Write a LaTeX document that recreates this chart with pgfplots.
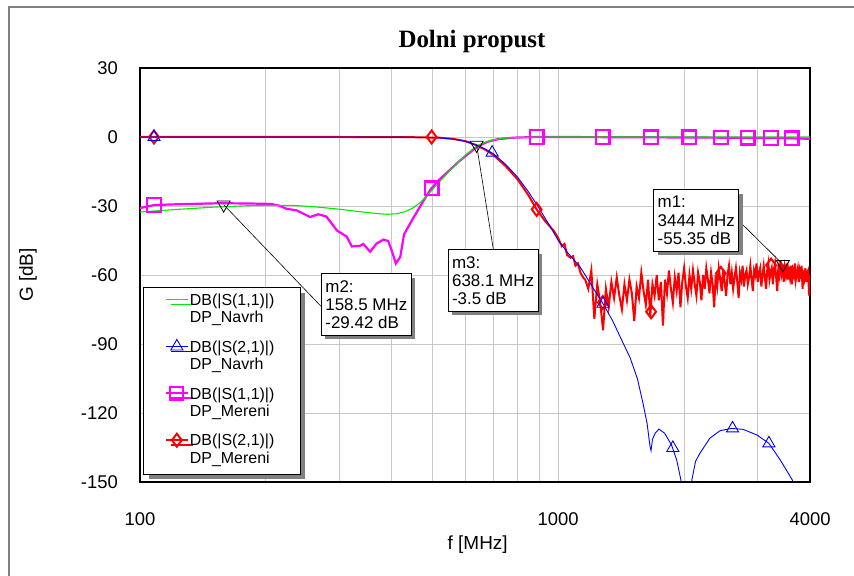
\documentclass[border=0pt]{standalone}
\usepackage{fontspec}
\setmainfont{Liberation Sans}
\newfontfamily\titleserif{Liberation Serif}
\usepackage{pgfplots}
\pgfplotsset{compat=1.18}
\usetikzlibrary{shadows}

\definecolor{gridgray}{RGB}{200,200,200}
\definecolor{navgreen}{RGB}{0,235,0}
\definecolor{navblue}{RGB}{0,0,255}
\definecolor{mermag}{RGB}{255,0,255}
\definecolor{merred}{RGB}{255,0,0}
\definecolor{shadowgray}{RGB}{128,128,128}

\newcommand\tickfont{\fontsize{18.5}{20}\selectfont}
\newcommand\labfont{\fontsize{19}{21}\selectfont}
\newcommand\legfont{\fontsize{16}{17.7}\selectfont}
\newcommand\annfont{\fontsize{17}{18.3}\selectfont}
% two-line legend entry with the right-hand padding of the legend box
\newcommand\legentry[2]{\begin{tabular}[t]{@{}l@{\hspace{21bp}}}#1\\#2\end{tabular}}

\tikzset{
  markerbox/.style={draw=black, line width=0.8bp, fill=white, align=left,
    inner xsep=4bp, inner ysep=6.5bp, font=\annfont,
    drop shadow={shadow xshift=4bp, shadow yshift=-4bp, fill=shadowgray, opacity=1}},
}

\begin{document}
\begin{tikzpicture}
\path[use as bounding box] (0,0) rectangle (854bp,576bp);
% outer frame of the graph window
\draw[gray, line width=1.6bp] (9bp,0) -- (9bp,569bp) -- (854bp,569bp);

\begin{axis}[
  at={(140bp,94bp)}, anchor=south west,
  width=670bp, height=414bp, scale only axis,
  xmode=log, xmin=100, xmax=4000, ymin=-150, ymax=30,
  xtick={100,1000,4000}, xticklabels={100,1000,4000},
  minor xtick={200,300,400,500,600,700,800,900,2000,3000},
  ytick={-150,-120,-90,-60,-30,0,30},
  grid=both,
  major grid style={gridgray, line width=0.9bp},
  minor grid style={gridgray, line width=0.9bp},
  major tick length=0pt, minor tick length=0pt,
  axis line style={black, line width=1.2bp},
  /pgf/number format/assume math mode=true,
  tick label style={font=\tickfont, inner sep=0pt},
  yticklabel style={anchor=east, xshift=-22bp},
  xticklabel style={anchor=north, yshift=-30bp},
  title={\titleserif\bfseries Dolni propust},
  title style={font=\fontsize{25}{27}\selectfont, at={(axis description cs:0.4955,1.0507)}, anchor=center},
  xlabel={f [MHz]},
  xlabel style={font=\labfont, at={(axis description cs:0.504,-0.1522)}, anchor=center},
  ylabel={G [dB]},
  ylabel style={font=\labfont, at={(axis description cs:-0.1672,0.5)}, anchor=center},
  legend cell align=left,
  legend image code/.code={%
    \path (-17bp,11bp) (0bp,11bp);
    \draw[mark repeat=2,mark phase=2] plot coordinates {(0bp,11bp)(11bp,11bp)(22bp,11bp)};},
  legend style={at={(axis description cs:0.005,0.4703)}, anchor=north west,
    draw=black, line width=0.8bp, fill=white, font=\legfont,
    row sep=9.6bp, inner xsep=4bp, inner ysep=4.3bp,
    nodes={inner sep=1bp, text depth={}, text height={}},
    drop shadow={shadow xshift=5bp, shadow yshift=-5bp, fill=shadowgray, opacity=1}},
]

% legend entries
\addlegendimage{navgreen, line width=1.1bp}
\addlegendentry{\legentry{DB(|S(1,1)|)}{DP\_Navrh}}
\addlegendimage{navblue, line width=0.9bp, mark=triangle, mark size=7bp, mark options={solid, fill=none}}
\addlegendentry{\legentry{DB(|S(2,1)|)}{DP\_Navrh}}
\addlegendimage{mermag, line width=2.2bp, mark=square, mark size=6.5bp, mark options={solid, fill=none}}
\addlegendentry{\legentry{DB(|S(1,1)|)}{DP\_Mereni}}
\addlegendimage{merred, line width=2bp, mark=diamond, mark size=6.5bp, mark options={solid, fill=none}}
\addlegendentry{\legentry{DB(|S(2,1)|)}{DP\_Mereni}}

% measured S11
\addplot[mermag, line width=2.2bp, forget plot] coordinates {
(100,-30.9) (108,-29.6) (120,-29.3) (140,-29.0) (155,-28.8) (180,-28.9)
(205,-29.1) (215,-29.8) (224,-31.2) (237,-31.9) (255,-34.8) (267,-33.6)
(279,-34.6) (296,-40.7) (312,-43.3) (321,-47.6) (336,-47.3) (342,-46.5)
(355,-49.9) (368,-46.3) (382,-44.6) (392,-45.2) (400,-49.5) (409,-55.0)
(419,-52.2) (428,-42.3) (451,-35.0) (476,-27.8) (496,-22.6) (520,-18.5)
(551,-14.3) (580,-10.5) (605,-7.8) (640,-4.2) (680,-2.0) (720,-0.9)
(780,-0.3) (850,-0.1) (900,0) (1500,-0.1) (2500,-0.3) (3500,-0.5) (4000,-0.8)
};
\addplot[only marks, mermag, mark=square, mark size=6.8bp, mark options={line width=2.2bp, fill=none}, forget plot] coordinates {
(108,-29.6) (498,-22.3) (888,0) (1278,0) (1668,-0.1) (2058,-0.1)
(2448,-0.2) (2838,-0.3) (3228,-0.4) (3618,-0.6)
};

% measured S21
\addplot[merred, line width=2bp, forget plot] coordinates {
(100,0) (300,0) (450,-0.1) (520,-0.3) (560,-0.8) (600,-1.8) (638,-3.6)
(670,-5.6) (700,-7.8) (750,-12.8) (800,-18.5) (850,-25.5) (888,-31.5)
(930,-36.5) (976,-40.8) (1000,-44) (1020,-47.5) (1035,-46.5) (1050,-51.3)
(1070,-52.5) (1085,-51.8) (1100,-56) (1115,-55) (1130,-59) (1150,-61.4)
(1160,-62) (1180,-66) (1200,-58) (1220,-79) (1240,-64) (1260,-72)
(1280,-84) (1300,-66) (1320,-74) (1340,-63) (1360,-70) (1380,-61)
(1400,-69) (1420,-75) (1440,-64) (1460,-71) (1480,-62) (1500,-68)
(1520,-80) (1540,-65) (1560,-70) (1580,-59) (1600,-67) (1620,-73)
(1640,-62) (1660,-78) (1680,-64) (1700,-69) (1720,-60) (1740,-71)
(1760,-63) (1780,-82) (1800,-62) (1820,-68) (1840,-58) (1860,-66)
(1880,-72) (1900,-61) (1920,-67) (1940,-59) (1960,-74) (1980,-63)
(2000,-57) (2020,-65) (2040,-70) (2060,-60) (2080,-66) (2100,-58)
(2120,-64) (2140,-69) (2160,-59) (2180,-63) (2200,-71) (2220,-60)
(2240,-66) (2260,-57) (2280,-62) (2300,-68) (2320,-59) (2340,-64)
(2360,-74) (2380,-60) (2400,-65) (2420,-57) (2440,-62) (2460,-67)
(2480,-58) (2500,-63) (2520,-69) (2540,-60) (2560,-56) (2580,-64)
(2600,-59) (2620,-66) (2640,-61) (2660,-57) (2680,-63) (2700,-70)
(2720,-59) (2740,-62) (2760,-56) (2780,-65) (2800,-60) (2820,-58)
(2840,-64) (2860,-61) (2880,-56) (2900,-62) (2920,-67) (2940,-58)
(2960,-60) (2980,-55) (3000,-63) (3020,-59) (3040,-57) (3060,-65)
(3080,-60) (3100,-56) (3120,-61) (3140,-66) (3160,-58) (3180,-55)
(3200,-62) (3220,-59) (3240,-57) (3260,-64) (3280,-58) (3300,-55)
(3320,-61) (3340,-67) (3360,-57) (3380,-60) (3400,-54) (3420,-59)
(3440,-55.4) (3460,-63) (3480,-57) (3500,-60) (3520,-55) (3540,-62)
(3560,-58) (3580,-61) (3600,-56) (3620,-64) (3640,-58) (3660,-60)
(3680,-55) (3700,-62) (3720,-59) (3740,-57) (3760,-63) (3780,-58)
(3800,-60) (3820,-56) (3840,-66) (3860,-58) (3880,-61) (3900,-57)
(3920,-63) (3940,-59) (3960,-58) (3980,-69) (4000,-60)
};
\addplot[only marks, merred, mark=diamond, mark size=6.5bp, mark options={line width=2bp, fill=none}, forget plot] coordinates {
(108,0) (498,0) (888,-31.5) (1278,-72) (1668,-76) (2448,-59.3) (3228,-55.7)
};

% designed S11
\addplot[navgreen, line width=1.1bp, forget plot] coordinates {
(100,-32.6) (120,-31.6) (150,-30.5) (180,-29.9) (200,-29.7) (230,-29.7)
(260,-30.3) (300,-31.4) (340,-32.6) (370,-33.3) (390,-33.6) (410,-33.4)
(430,-32.5) (450,-30.8) (470,-28.2) (494,-24.0) (520,-19.5) (550,-14.8)
(580,-10.5) (605,-7.3) (640,-3.8) (670,-2.2) (700,-1.2) (740,-0.5)
(800,-0.2) (900,-0.05) (1000,0) (4000,0)
};

% designed S21
\addplot[navblue, line width=0.9bp, forget plot] coordinates {
(100,0) (300,0) (450,-0.1) (520,-0.4) (560,-0.9) (600,-1.9) (638,-3.5)
(670,-5.3) (700,-7.3) (750,-12) (800,-17.5) (850,-24) (886,-29)
(950,-38) (1000,-45) (1050,-50) (1128,-56.5) (1160,-60) (1220,-66.5)
(1280,-72.5) (1350,-80) (1420,-88.5) (1486,-96) (1547,-105.2)
(1595,-115.8) (1631,-124.5) (1658,-134.6) (1667,-136.4) (1680,-131.5)
(1705,-128.8) (1741,-127) (1797,-128.8) (1866,-133.9) (1920,-140.4)
(1965,-149.1) (1990,-156) (2010,-170)
};
\addplot[navblue, line width=0.9bp, forget plot] coordinates {
(2060,-170) (2087,-149.1) (2130,-141) (2182,-137.5) (2303,-131)
(2437,-127.7) (2594,-126.7) (2766,-127.1) (2990,-129.6) (3190,-133.2)
(3395,-140.4) (3628,-149.1) (3700,-153) (3800,-160)
};
\addplot[only marks, navblue, mark=triangle, mark size=7bp, mark options={line width=0.9bp, fill=none}, forget plot] coordinates {
(108,0) (695,-6.8) (1280,-72.5) (1880,-135.2) (2611,-126.7) (3190,-133.2)
};

% markers m1, m2, m3
\addplot[only marks, mark=triangle, mark size=7.5bp, mark options={rotate=180, black, line width=0.8bp, fill=none}, forget plot] coordinates {
(158.5,-29.42) (638.1,-3.5) (3444,-55.35)
};
\coordinate (m1pt) at (axis cs:3444,-55.35);
\coordinate (m2pt) at (axis cs:158.5,-29.42);
\coordinate (m3pt) at (axis cs:638.1,-3.5);
\end{axis}

% marker read-outs
\draw[black, line width=0.6bp] (m2pt) -- (321bp,269.7bp);
\draw[black, line width=0.6bp] (m3pt) -- (493.3bp,326.7bp);
\draw[black, line width=0.6bp] (m1pt) -- (740bp,354bp);
\node[markerbox, anchor=north west] at (321bp,302.7bp) {m2:\\158.5 MHz\\-29.42 dB};
\node[markerbox, anchor=north west] at (447.7bp,326.7bp) {m3:\\638.1 MHz\\-3.5 dB};
\node[markerbox, anchor=north west] at (653.3bp,386.7bp) {m1:\\3444 MHz\\-55.35 dB};
\end{tikzpicture}
\end{document}
